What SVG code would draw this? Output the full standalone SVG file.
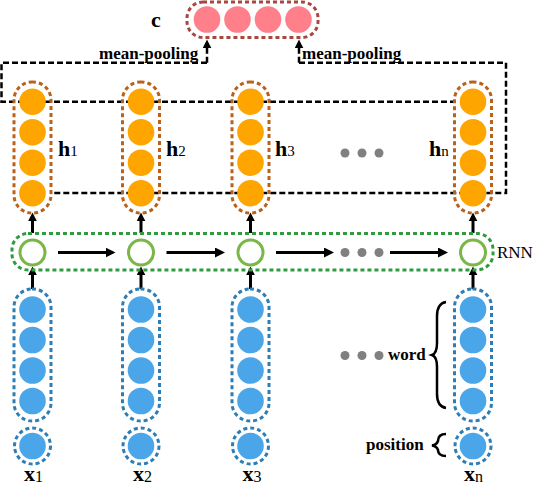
<svg xmlns="http://www.w3.org/2000/svg" width="534" height="486" viewBox="0 0 534 486">
<style>
.hbox{fill:none;stroke:#b8621b;stroke-width:3;stroke-dasharray:4 3}
.xbox{fill:none;stroke:#2e7db5;stroke-width:3;stroke-dasharray:4 3}
.cbox{fill:none;stroke:#a8473f;stroke-width:3;stroke-dasharray:4 3}
.gbox{fill:none;stroke:#2e9b3e;stroke-width:3;stroke-dasharray:4 3}
.ho{fill:#ffa500}
.xo{fill:#4aa6e8}
.co{fill:#ff808a}
.go{fill:#fff;stroke:#7ab648;stroke-width:3}
.dot{fill:#808080}
.pool{fill:none;stroke:#000;stroke-width:2.5;stroke-dasharray:6 3}
.arr{stroke:#000;stroke-width:3;fill:none}
.brace{fill:none;stroke:#000;stroke-width:2.5}
text{fill:#000}
.b{font-weight:bold}
</style>
<defs>
<marker id="ah" markerUnits="userSpaceOnUse" markerWidth="10" markerHeight="10" viewBox="0 0 10 10" refX="7" refY="5" orient="auto">
<path d="M0,0 L10,5 L0,10 z" fill="#000"/>
</marker>
<marker id="ahs" markerUnits="userSpaceOnUse" markerWidth="9" markerHeight="9" viewBox="0 0 10 10" refX="6" refY="5" orient="auto">
<path d="M0,0 L10,5 L0,10 z" fill="#000"/>
</marker>
</defs>

<g id="connectors">
<path class="pool" d="M207,62.7 H1.5 V101.7 H455"/>
<path class="pool" d="M299,62.7 H506 V193 H50.5"/>
<line class="pool" x1="207" y1="62.7" x2="207" y2="43" marker-end="url(#ahs)"/>
<line class="pool" x1="299" y1="62.7" x2="299" y2="43" marker-end="url(#ahs)"/>
<line class="arr" x1="58" y1="252.5" x2="112.5" y2="252.5" marker-end="url(#ah)"/>
<line class="arr" x1="166.5" y1="252.5" x2="222" y2="252.5" marker-end="url(#ah)"/>
<line class="arr" x1="276" y1="252.5" x2="331" y2="252.5" marker-end="url(#ah)"/>
<line class="arr" x1="390" y1="252.5" x2="445" y2="252.5" marker-end="url(#ah)"/>
<line class="arr" x1="32.5" y1="233" x2="32.5" y2="216" marker-end="url(#ahs)"/>
<line class="arr" x1="141" y1="233" x2="141" y2="216" marker-end="url(#ahs)"/>
<line class="arr" x1="250.5" y1="233" x2="250.5" y2="216" marker-end="url(#ahs)"/>
<line class="arr" x1="473" y1="233" x2="473" y2="216" marker-end="url(#ahs)"/>
<line class="arr" x1="32.5" y1="289" x2="32.5" y2="270" marker-end="url(#ahs)"/>
<line class="arr" x1="141" y1="289" x2="141" y2="270" marker-end="url(#ahs)"/>
<line class="arr" x1="250.5" y1="289" x2="250.5" y2="270" marker-end="url(#ahs)"/>
<line class="arr" x1="473" y1="289" x2="473" y2="270" marker-end="url(#ahs)"/>
</g>

<g id="c" font-family="Liberation Serif, DejaVu Serif, serif">
<rect class="cbox" x="187" y="2" width="131" height="35.5" rx="16"/>
<circle class="co" cx="207" cy="19.5" r="13.3"/>
<circle class="co" cx="237.5" cy="19.5" r="13.3"/>
<circle class="co" cx="268" cy="19.5" r="13.3"/>
<circle class="co" cx="298.5" cy="19.5" r="13.3"/>
<text class="b" x="151" y="27" font-size="22">c</text>
</g>

<g id="pool-labels" font-family="Liberation Serif, DejaVu Serif, serif">
<text class="b" x="99" y="58.5" font-size="17">mean-pooling</text>
<text class="b" x="302" y="58.5" font-size="17">mean-pooling</text>
</g>

<g id="h1" font-family="Liberation Serif, DejaVu Serif, serif">
<rect class="hbox" x="14" y="82" width="37" height="131" rx="18"/>
<circle class="ho" cx="32.5" cy="101.7" r="13.3"/>
<circle class="ho" cx="32.5" cy="132.2" r="13.3"/>
<circle class="ho" cx="32.5" cy="162.7" r="13.3"/>
<circle class="ho" cx="32.5" cy="193.2" r="13.3"/>
<text x="58" y="156" font-size="22"><tspan class="b">h</tspan><tspan font-size="15">1</tspan></text>
</g>
<g id="h2" font-family="Liberation Serif, DejaVu Serif, serif">
<rect class="hbox" x="122.5" y="82" width="37" height="131" rx="18"/>
<circle class="ho" cx="141" cy="101.7" r="13.3"/>
<circle class="ho" cx="141" cy="132.2" r="13.3"/>
<circle class="ho" cx="141" cy="162.7" r="13.3"/>
<circle class="ho" cx="141" cy="193.2" r="13.3"/>
<text x="166" y="156" font-size="22"><tspan class="b">h</tspan><tspan font-size="15">2</tspan></text>
</g>
<g id="h3" font-family="Liberation Serif, DejaVu Serif, serif">
<rect class="hbox" x="232" y="82" width="37" height="131" rx="18"/>
<circle class="ho" cx="250.5" cy="101.7" r="13.3"/>
<circle class="ho" cx="250.5" cy="132.2" r="13.3"/>
<circle class="ho" cx="250.5" cy="162.7" r="13.3"/>
<circle class="ho" cx="250.5" cy="193.2" r="13.3"/>
<text x="275" y="156" font-size="22"><tspan class="b">h</tspan><tspan font-size="15">3</tspan></text>
</g>
<g id="hn" font-family="Liberation Serif, DejaVu Serif, serif">
<rect class="hbox" x="454.5" y="82" width="37" height="131" rx="18"/>
<circle class="ho" cx="473" cy="101.7" r="13.3"/>
<circle class="ho" cx="473" cy="132.2" r="13.3"/>
<circle class="ho" cx="473" cy="162.7" r="13.3"/>
<circle class="ho" cx="473" cy="193.2" r="13.3"/>
<text x="429" y="156" font-size="22"><tspan class="b">h</tspan><tspan font-size="15">n</tspan></text>
</g>
<g id="h-dots">
<circle class="dot" cx="345" cy="153" r="4.5"/>
<circle class="dot" cx="362" cy="153" r="4.5"/>
<circle class="dot" cx="379" cy="153" r="4.5"/>
</g>

<g id="rnn" font-family="Liberation Serif, DejaVu Serif, serif">
<rect class="gbox" x="12" y="233.5" width="481" height="36.5" rx="16"/>
<circle class="go" cx="32.5" cy="252.5" r="12.5"/>
<circle class="go" cx="141" cy="252.5" r="12.5"/>
<circle class="go" cx="250.5" cy="252.5" r="12.5"/>
<circle class="go" cx="473" cy="252.5" r="12.5"/>
<circle class="dot" cx="345" cy="252.5" r="4.5"/>
<circle class="dot" cx="362" cy="252.5" r="4.5"/>
<circle class="dot" cx="379" cy="252.5" r="4.5"/>
<text x="497" y="258" font-size="17">RNN</text>
</g>

<g id="x1" font-family="Liberation Serif, DejaVu Serif, serif">
<rect class="xbox" x="14" y="289" width="37" height="132" rx="18"/>
<circle class="xo" cx="32.5" cy="309.5" r="13.3"/>
<circle class="xo" cx="32.5" cy="340" r="13.3"/>
<circle class="xo" cx="32.5" cy="370.5" r="13.3"/>
<circle class="xo" cx="32.5" cy="401" r="13.3"/>
<circle class="xo" cx="32.5" cy="446" r="13.3"/>
<circle class="xbox" cx="32.5" cy="446" r="18"/>
<text x="24" y="481" font-size="22"><tspan class="b">x</tspan><tspan font-size="16" dy="1">1</tspan></text>
</g>
<g id="x2" font-family="Liberation Serif, DejaVu Serif, serif">
<rect class="xbox" x="122.5" y="289" width="37" height="132" rx="18"/>
<circle class="xo" cx="141" cy="309.5" r="13.3"/>
<circle class="xo" cx="141" cy="340" r="13.3"/>
<circle class="xo" cx="141" cy="370.5" r="13.3"/>
<circle class="xo" cx="141" cy="401" r="13.3"/>
<circle class="xo" cx="141" cy="446" r="13.3"/>
<circle class="xbox" cx="141" cy="446" r="18"/>
<text x="133" y="481" font-size="22"><tspan class="b">x</tspan><tspan font-size="16" dy="1">2</tspan></text>
</g>
<g id="x3" font-family="Liberation Serif, DejaVu Serif, serif">
<rect class="xbox" x="232" y="289" width="37" height="132" rx="18"/>
<circle class="xo" cx="250.5" cy="309.5" r="13.3"/>
<circle class="xo" cx="250.5" cy="340" r="13.3"/>
<circle class="xo" cx="250.5" cy="370.5" r="13.3"/>
<circle class="xo" cx="250.5" cy="401" r="13.3"/>
<circle class="xo" cx="250.5" cy="446" r="13.3"/>
<circle class="xbox" cx="250.5" cy="446" r="18"/>
<text x="242.5" y="481" font-size="22"><tspan class="b">x</tspan><tspan font-size="16" dy="1">3</tspan></text>
</g>
<g id="xn" font-family="Liberation Serif, DejaVu Serif, serif">
<rect class="xbox" x="454.5" y="289" width="37" height="132" rx="18"/>
<circle class="xo" cx="473" cy="309.5" r="13.3"/>
<circle class="xo" cx="473" cy="340" r="13.3"/>
<circle class="xo" cx="473" cy="370.5" r="13.3"/>
<circle class="xo" cx="473" cy="401" r="13.3"/>
<circle class="xo" cx="473" cy="446" r="13.3"/>
<circle class="xbox" cx="473" cy="446" r="18"/>
<text x="464" y="481" font-size="22"><tspan class="b">x</tspan><tspan font-size="16" dy="1">n</tspan></text>
</g>

<g id="word-label" font-family="Liberation Serif, DejaVu Serif, serif">
<circle class="dot" cx="345" cy="355.5" r="4.5"/>
<circle class="dot" cx="362" cy="355.5" r="4.5"/>
<circle class="dot" cx="379" cy="355.5" r="4.5"/>
<text class="b" x="388" y="360" font-size="17">word</text>
<path class="brace" d="M446,302 C440,303 437,308 437,316 V343 C437,350 435,354 432,355 C435,356 437,360 437,367 V394 C437,402 440,407 446,408"/>
</g>
<g id="position-label" font-family="Liberation Serif, DejaVu Serif, serif">
<text class="b" x="366" y="450" font-size="17">position</text>
<path class="brace" d="M446,434 C440,434 438,437 438,441 C437,444 435,445 432,445.5 C435,446 437,447 438,450 C438,454 440,456 446,456"/>
</g>
</svg>
